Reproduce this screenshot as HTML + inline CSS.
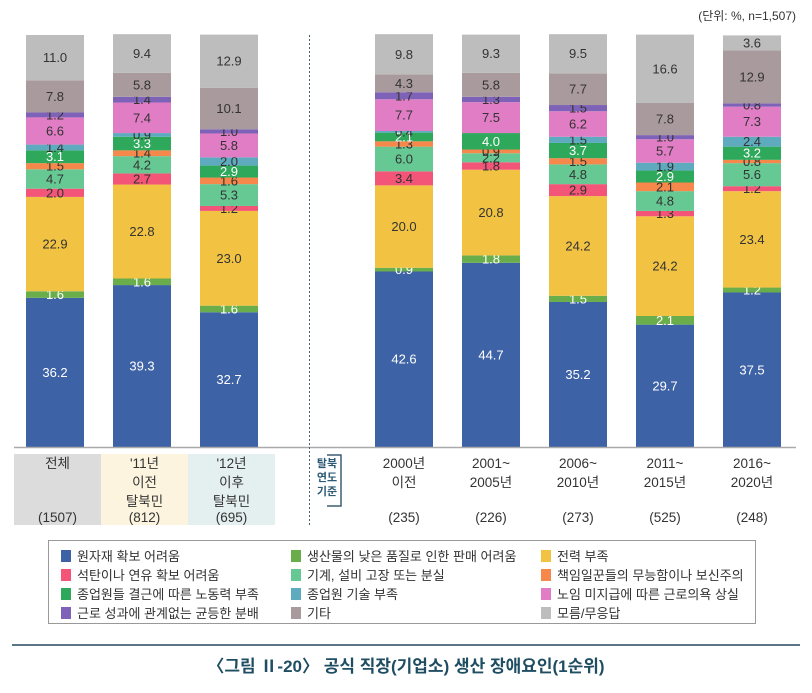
<!DOCTYPE html>
<html><head><meta charset="utf-8">
<style>
body{margin:0;width:812px;height:693px;background:#fff;font-family:"Liberation Sans","Noto Sans CJK KR",sans-serif;overflow:hidden;position:relative}
svg{position:absolute;left:0;top:0}
.legend{position:absolute;left:48px;top:540px;width:708px;height:84px;border:1px solid #999;box-sizing:border-box}
.li{position:absolute;font-size:13px;color:#333;white-space:nowrap;line-height:16px}
.li i{display:inline-block;width:10px;height:12px;vertical-align:-1px;margin-right:6px}
.title{position:absolute;left:0;width:812px;top:652px;text-align:center;font-size:17px;font-weight:bold;color:#1f4e63}
.rule{position:absolute;left:12px;width:788px;top:644px;height:2px;background:#5a7584}
</style></head><body>
<svg id="chart" width="812" height="640"></svg>
<div class="legend" id="legend"></div>
<div class="rule"></div>
<div class="title">〈그림 Ⅱ-20〉 공식 직장(기업소) 생산 장애요인(1순위)</div>
<script>
const seriesNames=["원자재 확보 어려움","생산물의 낮은 품질로 인한 판매 어려움","전력 부족","석탄이나 연유 확보 어려움","기계, 설비 고장 또는 분실","책임일꾼들의 무능함이나 보신주의","종업원들 결근에 따른 노동력 부족","종업원 기술 부족","노임 미지급에 따른 근로의욕 상실","근로 성과에 관계없는 균등한 분배","기타","모름/무응답"];
const colors=["#3d62a6","#6aae4c","#f2c343","#f25577","#66c993","#f5884a","#2ea85a","#5eabbf","#e07dc4","#7e62b8","#a99a9e","#bdbdbd"];
const categories=[["전체"],["'11년","이전","탈북민"],["'12년","이후","탈북민"],["2000년","이전"],["2001~","2005년"],["2006~","2010년"],["2011~","2015년"],["2016~","2020년"]];
const counts=["(1507)","(812)","(695)","(235)","(226)","(273)","(525)","(248)"];
const v0=[36.2,1.6,22.9,2.0,4.7,1.5,3.1,1.4,6.6,1.2,7.8,11.0];
const v1=[39.3,1.6,22.8,2.7,4.2,1.4,3.3,0.9,7.4,1.4,5.8,9.4];
const v2=[32.7,1.6,23.0,1.2,5.3,1.6,2.9,2.0,5.8,1.0,10.1,12.9];
const v3=[42.6,0.9,20.0,3.4,6.0,1.3,2.1,0.4,7.7,1.7,4.3,9.8];
const v4=[44.7,1.8,20.8,1.8,2.2,0.9,4.0,0,7.5,1.3,5.8,9.3];
const v5=[35.2,1.5,24.2,2.9,4.8,1.5,3.7,1.5,6.2,1.5,7.7,9.5];
const v6=[29.7,2.1,24.2,1.3,4.8,2.1,2.9,1.9,5.7,1.0,7.8,16.6];
const v7=[37.5,1.2,23.4,1.2,5.6,0.8,3.2,2.4,7.3,0.8,12.9,3.6];
const values=[v0,v1,v2,v3,v4,v5,v6,v7];
const NS="http://www.w3.org/2000/svg";
const svg=document.getElementById('chart');
const base=447,top0=35;
const yScale=p=>(base-top0)*p/100;
const xPos=i=>i<3?26+i*87:375+(i-3)*87;
const bw=58;
function mk(t,a){const e=document.createElementNS(NS,t);for(const k in a)e.setAttribute(k,a[k]);svg.appendChild(e);return e;}
function txt(x,y,s,o){const e=mk('text',Object.assign({x:x,y:y,'text-anchor':'middle','font-size':13,fill:'#333','font-family':'"Liberation Sans","Noto Sans CJK KR",sans-serif'},o||{}));e.textContent=s;return e;}
let u=txt(796,20,"(단위: %, n=1,507)",{'text-anchor':'end','font-size':12});


const boxFill=["#dcdcdc","#fdf4e0","#e4eff0"];
for(let i=0;i<3;i++){const r=mk('rect',{x:14+i*87,y:454,width:87,height:71,fill:boxFill[i]});

}
values.forEach((vals,i)=>{
  let y=base;const x=xPos(i);
  vals.forEach((v,j)=>{
    const h=yScale(v);y-=h;
    if(v<=0)return;
    const r=mk('rect',{x:x,y:y,width:bw,height:h,fill:colors[j]});
    
    
    const white=(j===0||j===1||j===6);
    const t=txt(x+bw/2,y+h/2+4.5,v.toFixed(1),{fill:white?'#fff':'#333'});
    
    
  });
  const cx=i<3?14+i*87+43.5:x+bw/2;
  categories[i].forEach((l,k)=>{const t=txt(cx,468+k*19,l,{'font-size':13.5});
    
    });
  const c=txt(cx,522,counts[i],{'font-size':13.5});
  
  
});
const ax=mk('line',{x1:14,y1:447.5,x2:796,y2:447.5,stroke:'#aaa','stroke-width':1.5});


const dv=mk('line',{x1:309.5,y1:35,x2:309.5,y2:527,stroke:'#4a6272','stroke-width':1,'stroke-dasharray':'2,2'});


const br=mk('path',{d:'M327,455 H341 V506 H327',fill:'none',stroke:'#3b5f73','stroke-width':1.5});


["탈북","연도","기준"].forEach((s,k)=>{const t=txt(327,467+k*14,s,{'font-size':11,'font-weight':'bold',fill:'#2d5a74'});

});
const lg=document.getElementById('legend');
const colX=[12,242,492];
seriesNames.forEach((n,j)=>{
  const col=j%3, row=Math.floor(j/3);
  const d=document.createElement('div');d.className='li';
  
  
  d.style.left=colX[col]+'px';d.style.top=(8+row*19)+'px';
  d.innerHTML='<i style="background:'+colors[j]+'"></i>'+n;lg.appendChild(d);
});
</script>
</body></html>
